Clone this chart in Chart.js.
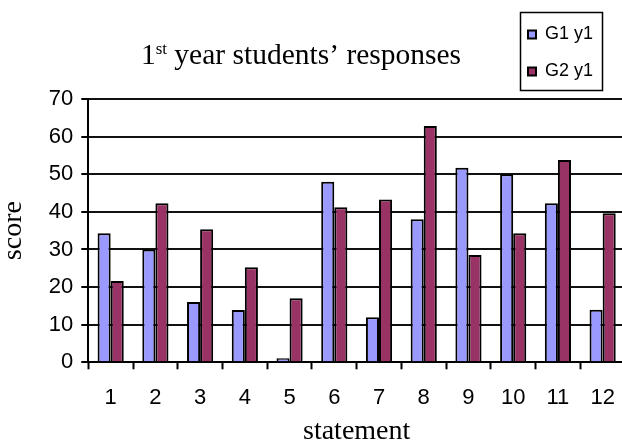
<!DOCTYPE html>
<html><head><meta charset="utf-8">
<script src="https://cdn.jsdelivr.net/npm/chart.js@4.4.1/dist/chart.umd.min.js"></script>
<style>
html,body{margin:0;padding:0;background:#fff;overflow:hidden;width:622px;height:443px}
canvas{display:block}
</style></head>
<body>
<canvas id="c" width="640" height="443" style="width:640px;height:443px"></canvas>
<script>
const categories = ['1','2','3','4','5','6','7','8','9','10','11','12'];
const seriesNames = ['G1 y1','G2 y1'];
const g1Values = [34.3, 30.0, 16.0, 13.9, 1.1, 48.0, 12.0, 38.0, 51.7, 50.0, 42.3, 14.0];
const g2Values = [21.6, 42.3, 35.4, 25.3, 17.0, 41.2, 43.3, 62.8, 28.5, 34.3, 53.8, 39.6];
const yMin = 0, yMax = 70, yStep = 10;
const titleMain = '1', titleSup = 'st', titleRest = ' year students\u2019 responses';
const xTitle = 'statement', yTitle = 'score';

const SANS = "'Liberation Sans', Arial, sans-serif";
const SERIF = "'Liberation Serif', 'Times New Roman', serif";

const decor = {
  id: 'decor',
  afterLayout(chart) {
    const lg = chart.legend;
    if (!lg) return;
    lg.left = 509; lg.top = 6.5; lg.right = 618; lg.bottom = 200;
    lg.width = lg.right - lg.left; lg.height = lg.bottom - lg.top;
  },
  afterDraw(chart) {
    const ctx = chart.ctx;
    ctx.save();
    ctx.strokeStyle = '#000'; ctx.lineWidth = 1.5;
    ctx.strokeRect(520.5, 12.5, 82, 78);
    ctx.fillStyle = '#000';
    ctx.textBaseline = 'alphabetic';
    const fMain = '29.5px ' + SERIF, fSup = '17px ' + SERIF;
    ctx.font = fMain; const w1 = ctx.measureText(titleMain).width;
    const w3 = ctx.measureText(titleRest).width;
    ctx.font = fSup; const w2 = ctx.measureText(titleSup).width;
    let x = 301 - (w1 + w2 + w3) / 2;
    const base = 63.5;
    ctx.font = fMain; ctx.fillText(titleMain, x, base); x += w1;
    ctx.font = fSup; ctx.fillText(titleSup, x, base - 9.5); x += w2;
    ctx.font = fMain; ctx.fillText(titleRest, x, base);
    ctx.restore();
  }
};

new Chart(document.getElementById('c'), {
  type: 'bar',
  data: {
    labels: categories,
    datasets: [
      { label: seriesNames[0], data: g1Values, backgroundColor: '#9999FF', borderColor: '#000', borderWidth: 2 },
      { label: seriesNames[1], data: g2Values, backgroundColor: '#993366', borderColor: '#000', borderWidth: 2 }
    ]
  },
  options: {
    responsive: false,
    animation: false,
    layout: { padding: { top: 99, right: 15, left: 0, bottom: 0 } },
    datasets: { bar: { categoryPercentage: 0.585, barPercentage: 1.0 } },
    plugins: {
      tooltip: { enabled: false },
      title: { display: false },
      legend: {
        position: 'chartArea', align: 'start',
        labels: { boxWidth: 8, boxHeight: 8, padding: 19, color: '#000', font: { family: SANS, size: 18 } }
      }
    },
    scales: {
      x: {
        grid: { offset: true, drawOnChartArea: false, tickLength: 7, tickColor: '#000', tickWidth: 2 },
        border: { color: '#000', width: 2 },
        ticks: { color: '#000', padding: 15, maxRotation: 0, font: { family: SANS, size: 22 } },
        title: { display: true, text: xTitle, color: '#000', font: { family: SERIF, size: 28, lineHeight: 0.8 }, padding: { top: 0, bottom: 0 } },
        afterFit(s) { s.height = 443 - 362.3; }
      },
      y: {
        min: yMin, max: yMax,
        grid: { color: '#111', lineWidth: 2, tickLength: 7, tickColor: '#000', tickWidth: 2 },
        border: { color: '#000', width: 2 },
        ticks: { stepSize: yStep, color: '#000', padding: 8, font: { family: SANS, size: 22 } },
        title: { display: true, text: yTitle, color: '#000', font: { family: SERIF, size: 28, lineHeight: 0.8 }, padding: { top: 2, bottom: 0 } },
        afterFit(s) { s.width = 88.3; }
      }
    }
  },
  plugins: [decor]
});
</script>
</body></html>
